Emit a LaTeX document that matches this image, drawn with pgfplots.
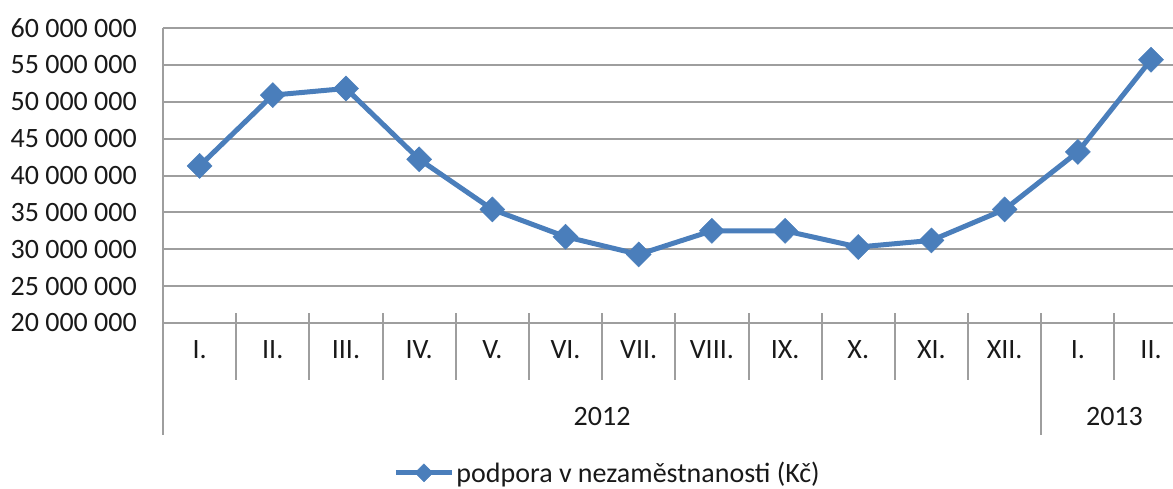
\documentclass[border=0pt]{standalone}
\usepackage{fontspec}
\setmainfont{Carlito}
\usepackage{pgfplots}
\pgfplotsset{compat=1.18}
\definecolor{ser}{RGB}{74,126,187}
\definecolor{grd}{RGB}{158,158,158}
\newcommand\cf{\fontsize{28}{32}\selectfont}
\begin{document}
\begin{tikzpicture}
\useasboundingbox (-163pt,-165pt) rectangle (1010pt,323pt);
\begin{axis}[
  scale only axis, width=1010pt, height=295pt,
  anchor=south west, at={(0pt,0pt)},
  xmin=-0.5, xmax=13.3,
  ymin=20000000, ymax=60000000,
  scaled y ticks=false,
  clip=false,
  axis lines*=left,
  axis line style={grd, line width=2pt},
  ymajorgrids, grid style={grd, line width=2pt},
  ytick={20000000,25000000,30000000,35000000,40000000,45000000,50000000,55000000,60000000},
  yticklabels={20 000 000,25 000 000,30 000 000,35 000 000,40 000 000,45 000 000,50 000 000,55 000 000,60 000 000},
  xtick={0,1,2,3,4,5,6,7,8,9,10,11,12,13},
  xticklabels={I.,II.,III.,IV.,V.,VI.,VII.,VIII.,IX.,X.,XI.,XII.,I.,II.},
  tick style={draw=none},
  major tick length=0pt,
  tick label style={font=\cf, text=black!90},
  yticklabel style={inner sep=0pt, anchor=east, xshift=-26pt},
  xticklabel style={inner sep=0pt, anchor=center, yshift=-27pt},
  legend style={at={(axis description cs:0.228,-0.508)}, anchor=west, draw=none, fill=none,
    font=\cf, text=black!90, inner sep=0pt},
  legend image code/.code={\draw[mark repeat=2,mark phase=2,#1,mark size=9pt] plot coordinates {(0pt,0pt) (28pt,0pt) (56pt,0pt)};},
]
\addplot[ser, line width=5pt, mark=diamond*, mark size=12.5pt, mark options={solid, fill=ser, line width=0.5pt, xscale=1.33}]
coordinates {
(0,41300000) (1,50900000) (2,51800000) (3,42200000) (4,35400000) (5,31700000)
(6,29300000) (7,32500000) (8,32500000) (9,30300000) (10,31200000) (11,35400000)
(12,43200000) (13,55700000)
};
\addlegendentry{podpora v nezaměstnanosti (Kč)}
\pgfplotsinvokeforeach{0.5,1.5,2.5,3.5,4.5,5.5,6.5,7.5,8.5,9.5,10.5,12.5}{
  \draw[grd, line width=2pt] ([yshift=10pt]axis cs:#1,20000000) -- ([yshift=-57pt]axis cs:#1,20000000);
}
\draw[grd, line width=2pt] ([yshift=10pt]axis cs:11.5,20000000) -- ([yshift=-112pt]axis cs:11.5,20000000);
\draw[grd, line width=2pt] (axis cs:-0.5,20000000) -- ([yshift=-112pt]axis cs:-0.5,20000000);
\node[font=\cf, text=black!90, inner sep=0pt, anchor=center] at ([yshift=-94pt]axis cs:5.5,20000000) {2012};
\node[font=\cf, text=black!90, inner sep=0pt, anchor=center] at ([yshift=-94pt]axis cs:12.5,20000000) {2013};
\end{axis}
\end{tikzpicture}
\end{document}
